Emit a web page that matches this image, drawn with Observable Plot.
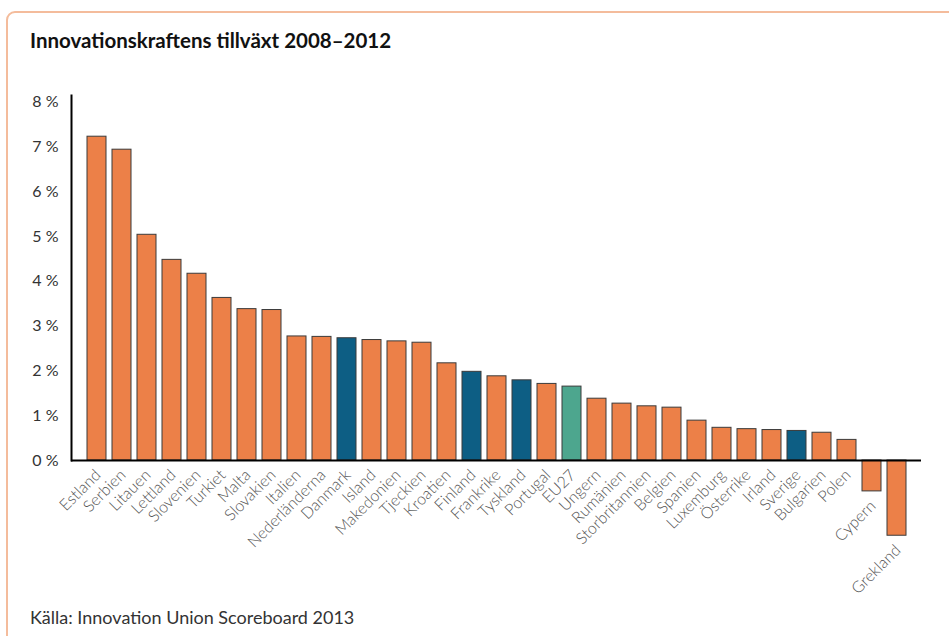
<!DOCTYPE html>
<html>
<head>
<meta charset="utf-8">
<script src="https://cdn.jsdelivr.net/npm/d3@7"></script>
<script src="https://cdn.jsdelivr.net/npm/@observablehq/plot@0.6"></script>
<style>
  html, body { margin: 0; padding: 0; background: #fff; }
  body { width: 949px; height: 636px; overflow: hidden; position: relative; font-family: Lato, "Open Sans", sans-serif; }
  #card { position: absolute; left: 6px; top: 11px; width: 1000px; height: 700px; border: 2px solid #F4BC9C; border-radius: 9px; box-sizing: border-box; }
  #title { position: absolute; left: 30px; top: 28px; font-size: 20.5px; font-weight: 700; color: #111; white-space: nowrap; }
  #chart { position: absolute; left: 0; top: 80px; }
  #caption { position: absolute; left: 30px; top: 606px; font-size: 18px; color: #333; white-space: nowrap; }
</style>
</head>
<body>
<div id="card"></div>
<div id="title">Innovationskraftens tillväxt 2008–2012</div>
<div id="chart"></div>
<div id="caption">Källa: Innovation Union Scoreboard 2013</div>
<script>
const countries = ["Estland","Serbien","Litauen","Lettland","Slovenien","Turkiet","Malta","Slovakien","Italien","Nederländerna","Danmark","Island","Makedonien","Tjeckien","Kroatien","Finland","Frankrike","Tyskland","Portugal","EU27","Ungern","Rumänien","Storbritannien","Belgien","Spanien","Luxemburg","Österrike","Irland","Sverige","Bulgarien","Polen","Cypern","Grekland"];
const growth = [7.23,6.94,5.04,4.48,4.17,3.63,3.38,3.36,2.77,2.76,2.73,2.69,2.66,2.63,2.17,1.98,1.88,1.79,1.71,1.65,1.38,1.27,1.21,1.18,0.89,0.73,0.70,0.68,0.66,0.62,0.46,-0.69,-1.68];
const blueCountries = ["Danmark","Finland","Tyskland","Sverige"];
const tealCountries = ["EU27"];
const groupNames = ["Övriga","Norden/Tyskland","EU27"];
const groupColors = ["#EC8048","#0D5E84","#4DA68E"];
const yTicks = [0,1,2,3,4,5,6,7,8];

const data = countries.map((c, i) => ({
  country: c,
  value: growth[i],
  group: blueCountries.includes(c) ? groupNames[1] : tealCountries.includes(c) ? groupNames[2] : groupNames[0]
}));

const chart = Plot.plot({
  width: 949,
  height: 530,
  marginTop: 15,
  marginBottom: 150,
  marginLeft: 71,
  marginRight: 28,
  style: { fontFamily: "Lato, 'Open Sans', sans-serif", fontSize: "16px", color: "#333", background: "transparent" },
  x: { type: "band", domain: countries, paddingInner: 0.26, paddingOuter: 0.175, axis: null },
  y: { domain: [0, 8.15], axis: null },
  color: { domain: groupNames, range: groupColors },
  marks: [
    Plot.barY(data, { x: "country", y: "value", fill: "group", stroke: "#3b3b3b", strokeWidth: 1 }),
    Plot.ruleY([0], { stroke: "#000", strokeWidth: 2 }),
    Plot.frame({ anchor: "left", stroke: "#000", strokeWidth: 2 }),
    Plot.axisY({ ticks: yTicks, tickSize: 0, tickPadding: 13, tickFormat: d => d + " %", fontSize: 16, fill: "#333", label: null }),
    Plot.text(data, {
      x: "country",
      y: d => Math.min(0, d.value),
      text: "country",
      rotate: -45,
      textAnchor: "end",
      lineAnchor: "middle",
      dx: 1,
      dy: 12,
      fontSize: 16,
      fontWeight: 300,
      fill: "#555"
    })
  ]
});
document.getElementById("chart").appendChild(chart);
</script>
</body>
</html>
